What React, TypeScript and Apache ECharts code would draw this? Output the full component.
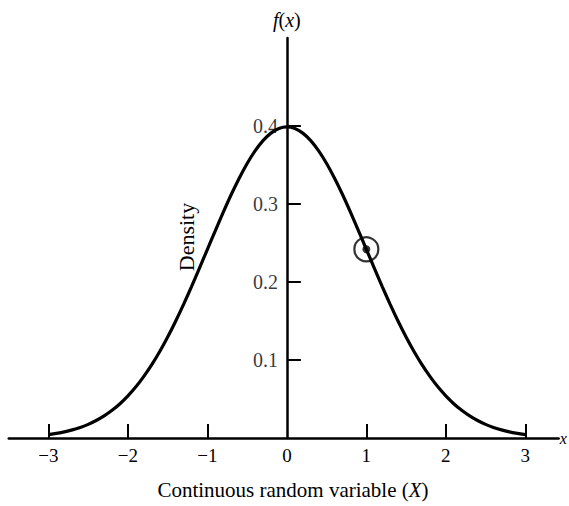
import React, { useEffect, useRef } from "react";
import * as echarts from "echarts";

const xValues = [
  -3, -2.9, -2.8, -2.7, -2.6, -2.5, -2.4, -2.3, -2.2, -2.1, -2, -1.9, -1.8, -1.7, -1.6, -1.5, -1.4, -1.3, -1.2, -1.1, -1,
  -0.9, -0.8, -0.7, -0.6, -0.5, -0.4, -0.3, -0.2, -0.1, 0, 0.1, 0.2, 0.3, 0.4, 0.5, 0.6, 0.7, 0.8, 0.9, 1,
  1.1, 1.2, 1.3, 1.4, 1.5, 1.6, 1.7, 1.8, 1.9, 2, 2.1, 2.2, 2.3, 2.4, 2.5, 2.6, 2.7, 2.8, 2.9, 3,
];
const densityValues = [
  0.0044, 0.006, 0.0079, 0.0104, 0.0136, 0.0175, 0.0224, 0.0283, 0.0355, 0.044, 0.054, 0.0656, 0.079, 0.094, 0.1109, 0.1295,
  0.1497, 0.1714, 0.1942, 0.2179, 0.242, 0.2661, 0.2897, 0.3123, 0.3332, 0.3521, 0.3683, 0.3814, 0.391, 0.397, 0.3989,
  0.397, 0.391, 0.3814, 0.3683, 0.3521, 0.3332, 0.3123, 0.2897, 0.2661, 0.242, 0.2179, 0.1942, 0.1714, 0.1497, 0.1295,
  0.1109, 0.094, 0.079, 0.0656, 0.054, 0.044, 0.0355, 0.0283, 0.0224, 0.0175, 0.0136, 0.0104, 0.0079, 0.006, 0.0044,
];
const xTickValues = [-3, -2, -1, 1, 2, 3];
const xLabelValues = [-3, -2, -1, 0, 1, 2, 3];
const yTickValues = [0.1, 0.2, 0.3, 0.4];
const markedPoint = [1, 0.242];

const FONT = "Liberation Serif";

export default function App() {
  const ref = useRef<HTMLDivElement>(null);
  useEffect(() => {
    if (!ref.current) return;
    const chart = echarts.init(ref.current, null, { renderer: "svg" });
    chart.setOption({
      animation: false,
      backgroundColor: "#ffffff",
      grid: { left: 8.75, right: 10.35, top: 38, bottom: 68, containLabel: false, outerBoundsMode: "none" },
      xAxis: {
        type: "value",
        min: -3.5,
        max: 3.42,
        name: "x",
        nameLocation: "end",
        nameGap: 1,
        nameTextStyle: { fontFamily: FONT, fontStyle: "italic", fontSize: 16, color: "#000", verticalAlign: "middle" },
        axisLine: { show: true, onZero: true, lineStyle: { color: "#000", width: 2.5 } },
        axisTick: { show: true, inside: true, length: 14, customValues: xTickValues, lineStyle: { color: "#000", width: 2 } },
        axisLabel: {
          show: true,
          customValues: xLabelValues,
          margin: 8,
          fontFamily: FONT,
          fontSize: 19,
          color: "#000",
          formatter: (v: number) => (v < 0 ? "\u2212" + Math.abs(v) : String(v)),
        },
        splitLine: { show: false },
      },
      yAxis: {
        type: "value",
        min: 0,
        max: 0.513,
        name: "{i|f}({i|x})",
        nameLocation: "end",
        nameGap: 8,
        nameTextStyle: {
          fontFamily: FONT,
          fontSize: 20,
          color: "#000",
          rich: { i: { fontFamily: FONT, fontStyle: "italic", fontSize: 20, color: "#000" } },
        },
        axisLine: { show: true, onZero: true, lineStyle: { color: "#000", width: 2.5 } },
        axisTick: { show: true, inside: true, length: 14, customValues: yTickValues, lineStyle: { color: "#000", width: 2 } },
        axisLabel: { show: false },
        splitLine: { show: false },
      },
      series: [
        {
          type: "line",
          data: xValues.map((x, i) => [x, densityValues[i]]),
          smooth: 0.3,
          showSymbol: false,
          lineStyle: { color: "#000", width: 3.2 },
          z: 3,
        },
        {
          type: "scatter",
          data: [markedPoint],
          symbol: "circle",
          symbolSize: 24,
          itemStyle: { color: "rgba(0,0,0,0)", borderColor: "#000", borderWidth: 2.2 },
          z: 4,
        },
        {
          type: "scatter",
          data: [markedPoint],
          symbol: "circle",
          symbolSize: 8,
          itemStyle: { color: "#000" },
          z: 5,
        },
        {
          type: "scatter",
          data: yTickValues.map((v) => [0, v]),
          symbolSize: 0,
          silent: true,
          label: {
            show: true,
            position: "left",
            distance: 9,
            fontFamily: FONT,
            fontSize: 20,
            color: "#000",
            formatter: (p: any) => Number(p.value[1]).toFixed(1),
          },
          z: 6,
        },
      ],
      graphic: [
        {
          type: "text",
          x: 186,
          y: 237,
          rotation: Math.PI / 2,
          style: { text: "Density", fontFamily: FONT, fontSize: 22, fill: "#000", align: "center", verticalAlign: "middle" },
        },
        {
          type: "text",
          x: 293,
          y: 490,
          style: {
            text: "Continuous random variable ({i|X})",
            rich: { i: { fontFamily: FONT, fontStyle: "italic", fontSize: 21, fill: "#000" } },
            fontFamily: FONT,
            fontSize: 21,
            fill: "#000",
            align: "center",
            verticalAlign: "middle",
          },
        },
      ],
    });
    return () => chart.dispose();
  }, []);
  return <div ref={ref} style={{ position: "fixed", left: 0, top: 0, width: 569, height: 506 }} />;
}
